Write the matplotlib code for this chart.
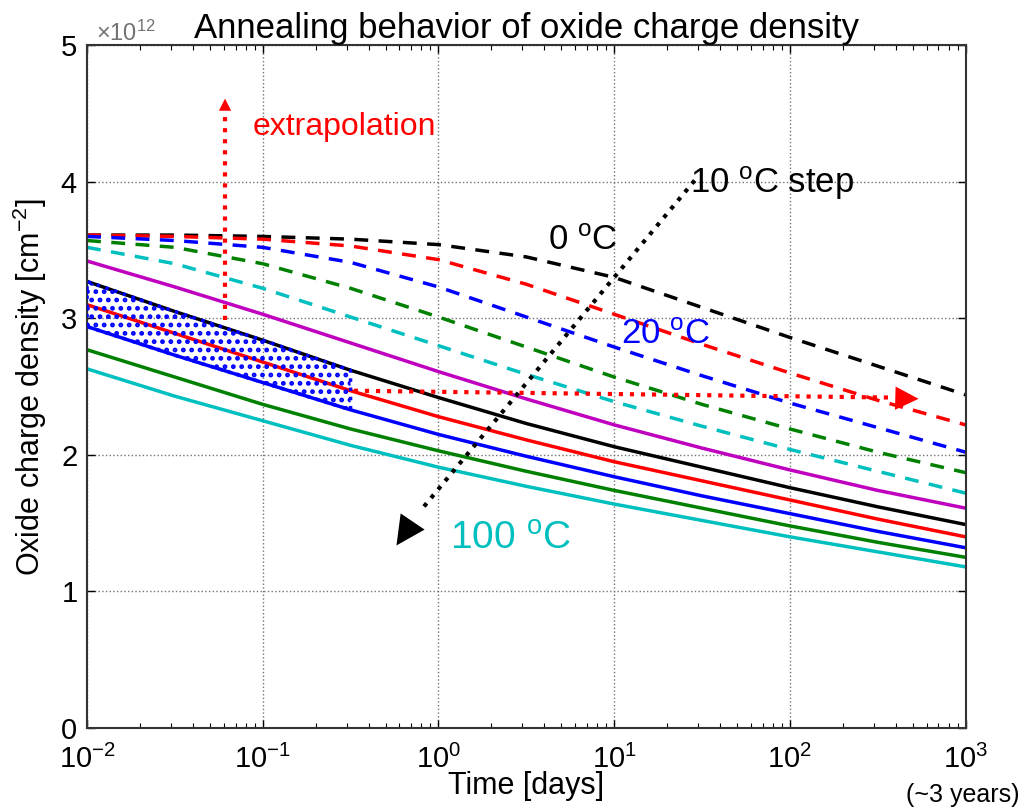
import numpy as np
import matplotlib
matplotlib.use("Agg")
import matplotlib.pyplot as plt

plt.rcParams['font.family'] = ['Liberation Sans', 'DejaVu Sans']
plt.rcParams['mathtext.fontset'] = 'custom'
plt.rcParams['mathtext.rm'] = 'Liberation Sans'
plt.rcParams['mathtext.it'] = 'Liberation Sans:italic'
plt.rcParams['mathtext.bf'] = 'Liberation Sans:bold'
plt.rcParams['axes.unicode_minus'] = False
plt.rcParams['hatch.linewidth'] = 2.2

# time axis [days], half-decade steps
days = [0.01, 0.0316, 0.1, 0.316, 1, 3.16, 10, 31.6, 100, 316, 1000]

# oxide charge density, units of 1e12 cm^-2
temps = [0, 10, 20, 30, 40, 50, 60, 70, 80, 90, 100]
dens_0C = [3.61, 3.61, 3.60, 3.58, 3.54, 3.45, 3.30, 3.08, 2.86, 2.65, 2.44]
dens_10C = [3.61, 3.60, 3.58, 3.53, 3.43, 3.25, 3.03, 2.81, 2.60, 2.40, 2.22]
dens_20C = [3.60, 3.57, 3.52, 3.41, 3.23, 3.01, 2.79, 2.58, 2.38, 2.20, 2.02]
dens_30C = [3.57, 3.52, 3.40, 3.22, 3.01, 2.79, 2.57, 2.37, 2.19, 2.02, 1.87]
dens_40C = [3.52, 3.40, 3.22, 3.01, 2.80, 2.59, 2.39, 2.21, 2.04, 1.88, 1.72]
dens_50C = [3.42, 3.23, 3.03, 2.82, 2.61, 2.41, 2.22, 2.05, 1.89, 1.74, 1.61]
dens_60C = [3.27, 3.05, 2.84, 2.62, 2.42, 2.23, 2.06, 1.91, 1.76, 1.62, 1.49]
dens_70C = [3.10, 2.89, 2.68, 2.47, 2.28, 2.11, 1.95, 1.81, 1.67, 1.53, 1.40]
dens_80C = [2.94, 2.73, 2.53, 2.33, 2.15, 1.99, 1.84, 1.70, 1.57, 1.44, 1.32]
dens_90C = [2.77, 2.57, 2.37, 2.19, 2.03, 1.88, 1.74, 1.61, 1.48, 1.36, 1.25]
dens_100C = [2.63, 2.43, 2.25, 2.07, 1.91, 1.77, 1.64, 1.52, 1.40, 1.29, 1.18]

curves = [dens_0C, dens_10C, dens_20C, dens_30C, dens_40C, dens_50C,
          dens_60C, dens_70C, dens_80C, dens_90C, dens_100C]
colors = ['k', 'r', 'b', (0, 0.5, 0), (0, 0.75, 0.75), (0.75, 0, 0.75),
          'k', 'r', 'b', (0, 0.5, 0), (0, 0.75, 0.75)]
scale = 1e12

fig = plt.figure(figsize=(10.24, 8.08), dpi=100)
ax = fig.add_axes([0.085, 0.099, 0.858, 0.845])

t = np.array(days)
for T, y, c in zip(temps, curves, colors):
    y = np.array(y) * scale
    if T < 50:
        ax.plot(t, y, color=c, lw=2.5, linestyle=(0, (4, 3)))
    else:
        ax.plot(t, y, color=c, lw=2.5)

# measured range (hatched), 60-80 C up to ~0.3 days
ax.fill_between(t[:4], np.array(dens_60C[:4]) * scale, np.array(dens_80C[:4]) * scale,
                facecolor='none', edgecolor='b', hatch='..', linestyle=':', lw=2.5, zorder=4)

# extrapolation arrows
ax.plot([0.061, 0.061], [2.99e12, 4.5e12], color='r', lw=3, linestyle=':')
ax.annotate('', xy=(0.061, 4.63e12), xytext=(0.061, 4.45e12),
            arrowprops=dict(arrowstyle='-|>', color='r', lw=0, mutation_scale=22))
ax.plot([0.33, 380], [2.47e12, 2.42e12], color='r', lw=3, linestyle=':')
ax.annotate('', xy=(560, 2.41e12), xytext=(300, 2.42e12),
            arrowprops=dict(arrowstyle='-|>', color='r', lw=0, mutation_scale=42))
ax.text(0.087, 4.40e12, 'extrapolation', color='r', fontsize=23, va='center')

# temperature step arrow
ax.plot([28.7, 0.8], [4.01e12, 1.6e12], color='k', lw=3, linestyle=':')
ax.annotate('', xy=(0.565, 1.32e12), xytext=(0.95, 1.75e12),
            arrowprops=dict(arrowstyle='-|>', color='k', lw=0, mutation_scale=52))
ax.text(27, 3.99e12, '10 $^{\\rm o}$C step', color='k', fontsize=25, va='center')
ax.text(4.19, 3.57e12, '0 $^{\\rm o}$C', color='k', fontsize=25, va='center')
ax.text(11.0, 2.88e12, '20 $^{\\rm o}$C', color='b', fontsize=25, va='center')
ax.text(1.16, 1.39e12, '100 $^{\\rm o}$C', color=(0, 0.75, 0.75), fontsize=28, va='center')

ax.set_xscale('log')
ax.set_xlim(1e-2, 1e3)
ax.set_ylim(0, 5e12)
ax.set_yticks(np.arange(0, 6) * scale)
ax.ticklabel_format(axis='y', style='sci', scilimits=(0, 0), useMathText=True)
off = ax.yaxis.get_offset_text()
off.set_fontsize(17)
off.set_color('0.45')
off.set_x(0.01)

ax.grid(True, which='major', color='0.45', linestyle=':', lw=1)
ax.tick_params(which='both', direction='in', top=True, right=True, labelsize=21)
ax.tick_params(axis='x', which='major', pad=12)
ax.tick_params(axis='y', which='major', pad=7)
ax.tick_params(which='major', length=6, width=1)
ax.tick_params(which='minor', length=3.5, width=0.8)
for s in ax.spines.values():
    s.set_linewidth(1.5)
    s.set_color('0.2')

ax.set_title('Annealing behavior of oxide charge density', fontsize=25, pad=5)
ax.set_xlabel('Time [days]', fontsize=22, labelpad=-2)
ax.set_ylabel('Oxide charge density [cm$^{-2}$]', fontsize=22, labelpad=8)
fig.text(0.94, 0.016, '(~3 years)', fontsize=18, ha='center', va='center')

fig.savefig('out.png', dpi=100)
